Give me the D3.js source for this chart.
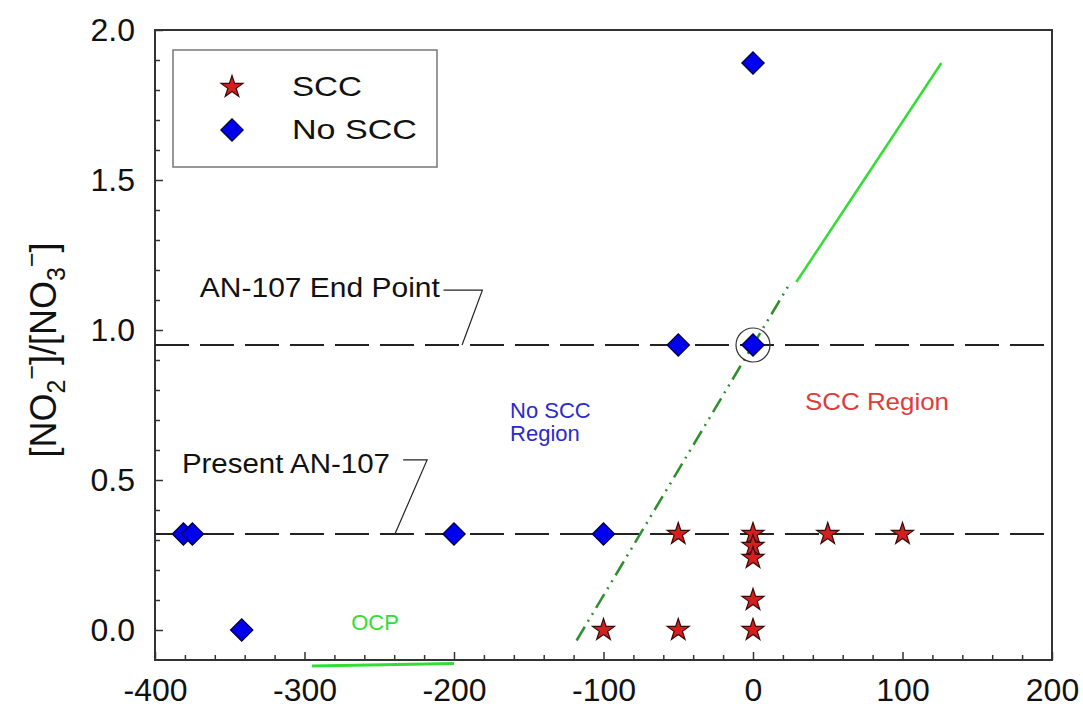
<!DOCTYPE html>
<html><head><meta charset="utf-8">
<script src="https://cdn.jsdelivr.net/npm/d3@7"></script>
<style>body{margin:0;background:#fff;} svg{display:block;font-family:"Liberation Sans",Arial,sans-serif;}</style>
</head><body>
<svg id="c" width="1083" height="712"></svg>
<script>
// ---- data ----
const sccX = [-100, -50, 0, 0, -50, 0, 0, 0, 50, 100];
const sccY = [0, 0, 0, 0.10, 0.32, 0.32, 0.28, 0.24, 0.32, 0.32];
const noSccX = [0, -50, 0, -381, -375, -200, -100, -342];
const noSccY = [1.89, 0.95, 0.95, 0.32, 0.32, 0.32, 0.32, 0];
const endPointLevel = 0.95;
const presentLevel = 0.32;
const transitionDashed = [[-118, -0.035], [24, 1.15]];
const transitionSolid = [[29, 1.16], [126, 1.89]];
const ocpLine = [[-295, -0.12], [-200, -0.112]];
const xTicks = [-400, -300, -200, -100, 0, 100, 200];
const yTicks = [0, 0.5, 1.0, 1.5, 2.0];
const seriesNames = ["SCC", "No SCC"];

const svg = d3.select("#c");
const x = d3.scaleLinear().domain([-400, 200]).range([155, 1052]);
const y = d3.scaleLinear().domain([-0.1, 2.0]).range([660, 30]);
const FONT = "Liberation Sans, Arial, sans-serif";

// frame
svg.append("rect").attr("x", 155).attr("y", 30).attr("width", 1052 - 155).attr("height", 630)
  .attr("fill", "none").attr("stroke", "#333").attr("stroke-width", 2);

// axes (inward ticks)
const xMinor = d3.range(-400, 201, 20).filter(v => v % 100 !== 0);
const yMinor = d3.range(1, 20).map(i => i / 10).filter(v => !yTicks.some(t => Math.abs(t - v) < 1e-6));

const gx = svg.append("g").attr("transform", "translate(0,660)");
gx.call(d3.axisBottom(x).tickValues(xTicks).tickSize(-8).tickPadding(18).tickFormat(d => d < 0 ? "-" + Math.abs(d) : String(d)));
gx.selectAll("text").attr("font-size", 32).attr("fill", "#111").attr("font-family", FONT);
const gxm = svg.append("g").attr("transform", "translate(0,660)");
gxm.call(d3.axisBottom(x).tickValues(xMinor).tickSize(-5).tickFormat(""));
[gx, gxm].forEach(g => { g.selectAll(".domain").remove(); g.selectAll("line").attr("stroke", "#333").attr("stroke-width", 1.5); });

const gy = svg.append("g").attr("transform", "translate(155,0)");
gy.call(d3.axisLeft(y).tickValues(yTicks).tickSize(-8).tickPadding(20).tickFormat(d3.format(".1f")));
gy.selectAll("text").attr("font-size", 32).attr("fill", "#111").attr("font-family", FONT);
const gym = svg.append("g").attr("transform", "translate(155,0)");
gym.call(d3.axisLeft(y).tickValues(yMinor).tickSize(-5).tickFormat(""));
[gy, gym].forEach(g => { g.selectAll(".domain").remove(); g.selectAll("line").attr("stroke", "#333").attr("stroke-width", 1.5); });

// y label
const yl = svg.append("text").attr("transform", `translate(56,${(y(0) + y(2)) / 2 + 20}) rotate(-90)`)
  .attr("text-anchor", "middle").attr("font-size", 36).attr("fill", "#111");
yl.append("tspan").text("[NO");
yl.append("tspan").attr("font-size", 25).attr("dy", 9).text("2");
yl.append("tspan").attr("font-size", 25).attr("dy", -25).text("−");
yl.append("tspan").attr("dy", 16).text("]/[NO");
yl.append("tspan").attr("font-size", 25).attr("dy", 9).text("3");
yl.append("tspan").attr("font-size", 25).attr("dy", -25).text("−");
yl.append("tspan").attr("dy", 16).text("]");

// horizontal reference lines
[endPointLevel, presentLevel].forEach(v => {
  svg.append("line").attr("x1", x(-400)).attr("x2", x(200)).attr("y1", y(v)).attr("y2", y(v))
    .attr("stroke", "#222").attr("stroke-width", 2).attr("stroke-dasharray", "34,11");
});

// annotations
const line = d3.line().x(d => x(d[0])).y(d => y(d[1]));
svg.append("path").attr("d", line([[-207, 1.133], [-181, 1.133], [-194.6, endPointLevel]]))
  .attr("fill", "none").attr("stroke", "#222").attr("stroke-width", 1.2);
svg.append("path").attr("d", line([[-234, 0.567], [-218, 0.567], [-239.5, presentLevel]]))
  .attr("fill", "none").attr("stroke", "#222").attr("stroke-width", 1.2);
svg.append("text").attr("x", x(-370)).attr("y", y(1.11)).attr("font-size", 27).attr("fill", "#111")
  .attr("textLength", 240).attr("lengthAdjust", "spacingAndGlyphs").text("AN-107 End Point");
svg.append("text").attr("x", x(-382)).attr("y", y(0.523)).attr("font-size", 27).attr("fill", "#111")
  .attr("textLength", 208).attr("lengthAdjust", "spacingAndGlyphs").text("Present AN-107");
svg.append("text").attr("x", x(-162.5)).attr("y", y(0.707)).attr("font-size", 22).attr("fill", "#2a2acc").text("No SCC");
svg.append("text").attr("x", x(-162.5)).attr("y", y(0.63)).attr("font-size", 22).attr("fill", "#2a2acc").text("Region");
svg.append("text").attr("x", x(34.8)).attr("y", y(0.733)).attr("font-size", 24).attr("fill", "#e03a3a")
  .attr("textLength", 144).attr("lengthAdjust", "spacingAndGlyphs").text("SCC Region");
svg.append("text").attr("x", x(-252.8)).attr("y", y(0.0)).attr("text-anchor", "middle").attr("font-size", 22).attr("fill", "#33dd33").text("OCP");

// green lines
svg.append("path").attr("d", line(transitionDashed)).attr("fill", "none").attr("stroke", "#2f8f2f")
  .attr("stroke-width", 2.5).attr("stroke-dasharray", "16,6,2,6,2,6");
svg.append("path").attr("d", line(transitionSolid)).attr("fill", "none").attr("stroke", "#33dd33").attr("stroke-width", 2.5);
svg.append("path").attr("d", line(ocpLine)).attr("fill", "none").attr("stroke", "#33dd33").attr("stroke-width", 3);

// markers
const star = d3.symbol().type(d3.symbolStar).size(150);
const diamond = d3.symbol().type(d3.symbolSquare).size(250);
svg.append("g").selectAll("path").data(noSccX.map((v, i) => [v, noSccY[i]])).join("path")
  .attr("d", diamond).attr("transform", d => `translate(${x(d[0])},${y(d[1])}) rotate(45)`)
  .attr("fill", "#0000ee").attr("stroke", "#000033").attr("stroke-width", 1.2);
svg.append("g").selectAll("path").data(sccX.map((v, i) => [v, sccY[i]])).join("path")
  .attr("d", star).attr("transform", d => `translate(${x(d[0])},${y(d[1])})`)
  .attr("fill", "#d41f1f").attr("stroke", "#3a0808").attr("stroke-width", 1.2);

// circle highlight
svg.append("circle").attr("cx", x(0)).attr("cy", y(endPointLevel)).attr("r", 17)
  .attr("fill", "none").attr("stroke", "#333").attr("stroke-width", 1.2);

// legend
const lg = svg.append("g");
lg.append("rect").attr("x", 173).attr("y", 50).attr("width", 264).attr("height", 117)
  .attr("fill", "#fff").attr("stroke", "#777").attr("stroke-width", 1.5);
lg.append("path").attr("d", star).attr("transform", "translate(232,87)")
  .attr("fill", "#d41f1f").attr("stroke", "#3a0808").attr("stroke-width", 1.2);
lg.append("path").attr("d", diamond).attr("transform", "translate(232,130) rotate(45)")
  .attr("fill", "#0000ee").attr("stroke", "#000033").attr("stroke-width", 1.2);
lg.append("text").attr("x", 292).attr("y", 96).attr("font-size", 28).attr("fill", "#111")
  .attr("textLength", 70).attr("lengthAdjust", "spacingAndGlyphs").text(seriesNames[0]);
lg.append("text").attr("x", 292).attr("y", 139).attr("font-size", 28).attr("fill", "#111")
  .attr("textLength", 125).attr("lengthAdjust", "spacingAndGlyphs").text(seriesNames[1]);
</script>
</body></html>
